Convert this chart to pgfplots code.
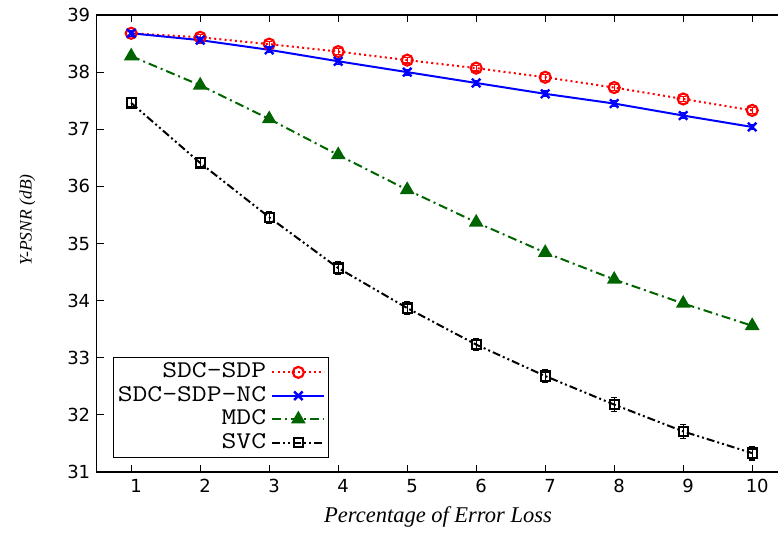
\documentclass[border=0pt]{standalone}
\usepackage{fontspec}
\setmainfont{Liberation Serif}
\newfontfamily\tickfont{DejaVu Sans}
\usepackage{graphicx}
\usepackage{pgfplots}
\usepackage{pgfplotstable}
\pgfplotsset{compat=1.18}

\definecolor{mdcgreen}{RGB}{0,100,0}
\newcommand\legtxt[1]{\scalebox{1.2}[1]{\ttfamily\fontsize{24bp}{26bp}\selectfont #1}}

% Y-PSNR (dB) against percentage of error loss
\pgfplotstableread{
x  sdp    esdp  nc     enc   mdc    emdc  svc    esvc
1  38.68  0.05  38.68  0.05  38.28  0.05  37.46  0.10
2  38.61  0.05  38.56  0.05  37.77  0.05  36.41  0.10
3  38.49  0.05  38.39  0.05  37.18  0.05  35.46  0.10
4  38.36  0.05  38.19  0.05  36.55  0.05  34.57  0.11
5  38.21  0.05  38.00  0.05  35.94  0.05  33.87  0.11
6  38.07  0.05  37.81  0.05  35.37  0.05  33.23  0.11
7  37.91  0.05  37.62  0.05  34.84  0.05  32.68  0.11
8  37.73  0.05  37.45  0.05  34.37  0.05  32.18  0.12
9  37.53  0.05  37.24  0.05  33.95  0.05  31.71  0.12
10 37.33  0.05  37.04  0.05  33.56  0.05  31.33  0.12
}\psnr

\begin{document}
\begin{tikzpicture}
\useasboundingbox (0,0) rectangle (778bp,534bp);
\clip (0,0) rectangle (778bp,534bp);
\begin{axis}[
    at={(96.7bp,62bp)}, anchor=south west,
    scale only axis, width=690bp, height=457bp,
    xmin=0.5, xmax=10.5, ymin=31, ymax=39,
    xtick={1,...,10}, ytick={31,...,39},
    axis line style={line width=1.3bp},
    major tick style={line width=1bp, black},
    major tick length=7bp,
    tick align=inside,
    /pgf/number format/assume math mode=true,
    ticklabel style={font=\tickfont\fontsize{18bp}{20bp}\selectfont},
    xticklabel style={xshift=5bp, yshift=-4bp},
    yticklabel style={xshift=-3bp},
    xlabel={\textit{Percentage of Error Loss}},
    ylabel={\textit{Y-PSNR (dB)}},
    xlabel style={font=\fontsize{22.5bp}{24bp}\selectfont, at={(rel axis cs:0.4946,-0.111)}, anchor=base},
    ylabel style={font=\fontsize{17.5bp}{19bp}\selectfont, at={(rel axis cs:-0.1003,0.551)}, anchor=center},
    legend plot pos=right,
    legend cell align=right,
    legend style={at={(rel axis cs:0.0236,0.2516)}, anchor=north west,
        draw=black, line width=1.3bp, inner xsep=3bp, inner ysep=3bp,
        nodes={inner sep=1.2bp, text height=16bp, text depth=5bp, line width=1.3bp},
        column sep=4bp},
    legend image code/.code={
        \draw[mark repeat=2, mark phase=2] plot coordinates {(0bp,0bp) (26bp,0bp) (52bp,0bp)};
    },
    error bars/error bar style={line width=1.2bp, solid},
    error bars/error mark options={rotate=90, mark size=3bp, line width=1.2bp, solid},
]
\addplot[red, line width=2bp, dash pattern=on 2bp off 3.2bp,
    mark=o, mark size=5.5bp, mark options={solid, line width=2.2bp},
    error bars/.cd, y dir=both, y explicit]
    table[x=x, y=sdp, y error=esdp] {\psnr};
\addlegendentry{\legtxt{SDC-SDP}}
\addplot[blue, line width=2bp, solid,
    mark=x, mark size=6bp, mark options={solid, line width=2.4bp},
    error bars/.cd, y dir=both, y explicit]
    table[x=x, y=nc, y error=enc] {\psnr};
\addlegendentry{\legtxt{SDC-SDP-NC}}
\addplot[mdcgreen, line width=2bp, dash pattern=on 9bp off 4bp on 2bp off 4bp,
    mark=triangle*, mark size=7bp, mark options={solid, line width=1.5bp},
    error bars/.cd, y dir=both, y explicit]
    table[x=x, y=mdc, y error=emdc] {\psnr};
\addlegendentry{\legtxt{MDC}}
\addplot[black, line width=2bp, dash pattern=on 8bp off 3bp on 2bp off 3bp on 2bp off 3bp,
    mark=square, mark size=4.6bp, mark options={solid, line width=2.2bp},
    error bars/.cd, y dir=both, y explicit]
    table[x=x, y=svc, y error=esvc] {\psnr};
\addlegendentry{\legtxt{SVC}}
\end{axis}
\end{tikzpicture}
\end{document}
